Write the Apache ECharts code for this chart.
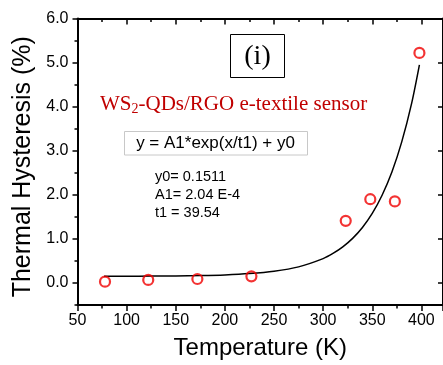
<!DOCTYPE html>
<html>
<head>
<meta charset="utf-8">
<script src="https://cdn.jsdelivr.net/npm/echarts@6/dist/echarts.min.js"></script>
<style>
html,body{margin:0;padding:0;background:#fff;}
#chart{width:443px;height:365px;}
</style>
</head>
<body>
<div id="chart"></div>
<script>
// Measured data points (Temperature K, Thermal Hysteresis %)
const tempK = [78, 122, 172, 227, 323, 348, 373, 398];
const hyst = [0.03, 0.07, 0.09, 0.15, 1.41, 1.90, 1.85, 5.22];
// Fitted curve
const fitX = [77, 100, 125, 150, 175, 200, 225, 250, 275, 300, 310, 320, 330, 340, 350, 360, 370, 380, 390, 398];
const fitY = [0.152, 0.154, 0.156, 0.160, 0.168, 0.183, 0.212, 0.265, 0.365, 0.553, 0.669, 0.818, 1.011, 1.259, 1.577, 1.99, 2.516, 3.20, 4.07, 4.95];
const yTicks = [0, 1, 2, 3, 4, 5, 6];
const xTitle = 'Temperature (K)';
const yTitle = 'Thermal Hysteresis (%)';
const panelLabel = '(i)';
const formulaText = 'y = A1*exp(x/t1) + y0';
const paramLines = ['y0= 0.1511', 'A1= 2.04 E-4', 't1 = 39.54'];

const chart = echarts.init(document.getElementById('chart'), null, {renderer: 'canvas'});
const sans = '"Liberation Sans", Arial, sans-serif';
const serif = '"Liberation Serif", "Times New Roman", serif';
const axisCommon = {
  min: 50, max: 422, interval: 50
};
const option = {
  backgroundColor: '#fff',
  animation: false,
  grid: {left: 77.5, right: 0, top: 18.5, bottom: 58.5, containLabel: false},
  xAxis: [
    Object.assign({}, axisCommon, {
      type: 'value', position: 'bottom',
      name: xTitle, nameLocation: 'middle', nameGap: 31,
      nameTextStyle: {fontFamily: sans, fontSize: 24, color: '#000'},
      axisLine: {show: true, onZero: false, lineStyle: {color: '#000', width: 2}},
      axisTick: {show: true, inside: false, length: 6, lineStyle: {color: '#000', width: 1.5}},
      minorTick: {show: true, splitNumber: 2, length: 3.5, lineStyle: {color: '#000', width: 1.5}},
      axisLabel: {fontFamily: sans, fontSize: 16, color: '#000', margin: 8},
      splitLine: {show: false}
    }),
    Object.assign({}, axisCommon, {
      type: 'value', position: 'top',
      axisLine: {show: true, onZero: false, lineStyle: {color: '#000', width: 2}},
      axisTick: {show: true, inside: true, length: 6, lineStyle: {color: '#000', width: 1.5}},
      minorTick: {show: true, splitNumber: 2, length: 3.5, lineStyle: {color: '#000', width: 1.5}},
      axisLabel: {show: false},
      splitLine: {show: false}
    })
  ],
  yAxis: [
    {
      type: 'value', position: 'left', min: -0.5, max: 6,
      name: yTitle, nameLocation: 'middle', nameGap: 40, nameRotate: 90,
      nameTextStyle: {fontFamily: sans, fontSize: 25, color: '#000', padding: [0, 10, 0, 0]},
      axisLine: {show: true, onZero: false, lineStyle: {color: '#000', width: 2}},
      axisTick: {show: true, inside: false, length: 5, customValues: yTicks, lineStyle: {color: '#000', width: 1.5}},
      axisLabel: {fontFamily: sans, fontSize: 16, color: '#000', margin: 9, customValues: yTicks,
        formatter: function (v) { return Number(v).toFixed(1); }},
      splitLine: {show: false}
    },
    {
      type: 'value', position: 'left', min: -0.5, max: 6, interval: 0.5, offset: 0,
      axisLine: {show: false},
      axisTick: {show: true, inside: false, length: 3, lineStyle: {color: '#000', width: 1.5}},
      axisLabel: {show: false},
      splitLine: {show: false}
    },
    {
      type: 'value', position: 'right', min: -0.5, max: 6,
      axisLine: {show: true, onZero: false, lineStyle: {color: '#000', width: 2}},
      axisTick: {show: true, inside: true, length: 5, customValues: yTicks, lineStyle: {color: '#000', width: 1.5}},
      axisLabel: {show: false},
      splitLine: {show: false}
    }
  ],
  series: [
    {
      type: 'line', name: 'fit', xAxisIndex: 0, yAxisIndex: 0,
      data: fitX.map((x, i) => [x, fitY[i]]),
      smooth: 0.3, showSymbol: false, symbol: 'none',
      lineStyle: {color: '#000', width: 1.5}, z: 2
    },
    {
      type: 'scatter', name: 'data', xAxisIndex: 0, yAxisIndex: 0,
      data: tempK.map((x, i) => [x, hyst[i]]),
      symbol: 'circle', symbolSize: 10,
      itemStyle: {color: 'rgba(255,255,255,0)', borderColor: '#f00000', borderWidth: 2.2}, z: 3
    }
  ],
  graphic: [
    {type: 'rect', shape: {x: 230.5, y: 34.5, width: 54, height: 43}, style: {fill: 'none', stroke: '#000', lineWidth: 1}},
    {type: 'text', x: 257.5, y: 57, style: {text: panelLabel, font: '28px ' + serif, fill: '#000', align: 'center', verticalAlign: 'middle'}},
    {type: 'text', x: 100, y: 104, style: {
      text: 'WS{sub|2}-QDs/RGO e-textile sensor',
      rich: {sub: {fontSize: 14, fontFamily: serif, fill: '#c00000', padding: [10, 0, 0, 0]}},
      font: '21px ' + serif, fill: '#c00000', align: 'left', verticalAlign: 'middle'}},
    {type: 'rect', shape: {x: 124.5, y: 131.5, width: 183, height: 23.5}, style: {fill: '#fff', stroke: '#c8c8c8', lineWidth: 1}},
    {type: 'text', x: 215.5, y: 143.5, style: {text: formulaText, font: '17px ' + sans, fill: '#000', align: 'center', verticalAlign: 'middle'}},
    {type: 'text', x: 155, y: 167.5, style: {text: paramLines.join('\n'), font: '14.5px ' + sans, lineHeight: 18.3, fill: '#000', align: 'left', verticalAlign: 'top'}}
  ]
};
chart.setOption(option);
</script>
</body>
</html>
